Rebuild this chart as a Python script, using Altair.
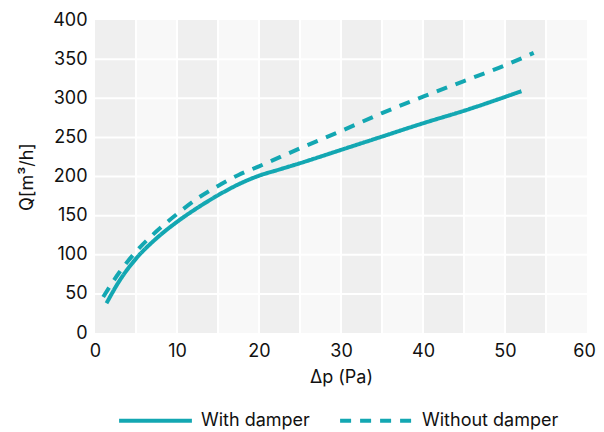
import altair as alt
import pandas as pd

# Data
with_dp = [1.4, 3, 5, 7.5, 10, 12.5, 15, 17.5, 20, 22.5, 25, 30, 35, 40, 45, 52]
with_q = [38, 67, 95, 121, 142, 160, 176, 190, 201, 209, 217, 234, 251, 268, 284, 309]
without_dp = [1.0, 3, 5, 7.5, 10, 12.5, 15, 17.5, 20, 25, 30, 35, 40, 45, 50, 53.5]
without_q = [46, 78, 104, 130, 152, 172, 188, 202, 213, 236, 258, 281, 302, 322, 342, 358]
series_names = ["With damper", "Without damper"]
band_starts = [0, 10, 20, 30, 40, 50]
band_ends = [5, 15, 25, 35, 45, 55]
x_ticks = [0, 10, 20, 30, 40, 50, 60]
y_ticks = [0, 50, 100, 150, 200, 250, 300, 350, 400]
x_grid = [5, 10, 15, 20, 25, 30, 35, 40, 45, 50, 55]
y_grid = [50, 100, 150, 200, 250, 300, 350]

teal = "#13a7b2"
font = "Inter"

rows = []
for x, y in zip(with_dp, with_q):
    rows.append({"dp": x, "q": y, "series": series_names[0]})
for x, y in zip(without_dp, without_q):
    rows.append({"dp": x, "q": y, "series": series_names[1]})
df = pd.DataFrame(rows)

bands = pd.DataFrame({"x0": band_starts, "x1": band_ends})

xscale = alt.Scale(domain=[0, 60], nice=False)
yscale = alt.Scale(domain=[0, 400], nice=False)
xaxis = alt.Axis(values=x_ticks, title="Δp (Pa)", grid=False, domain=False, ticks=False,
                 labelPadding=9, titlePadding=8, labelOverlap=False, labelFlush=False,
                 labelOffset={"condition": {"test": "datum.value === 60", "value": -3}, "value": 0})
yaxis = alt.Axis(values=y_ticks, title="Q[m³/h]", grid=False, domain=False, ticks=False,
                 labelPadding=8, titlePadding=16, labelOverlap=False, labelFlush=False)

bg = alt.Chart(bands).mark_rect(color="#efefef").encode(
    x=alt.X("x0:Q", scale=xscale, axis=xaxis, title="Δp (Pa)"),
    x2="x1:Q",
    y=alt.value(0),
    y2=alt.value(313),
)

gx = alt.Chart(pd.DataFrame({"g": x_grid})).mark_rule(color="white", strokeWidth=2).encode(
    x=alt.X("g:Q", scale=xscale, axis=xaxis, title="Δp (Pa)"), y=alt.value(0), y2=alt.value(313))
gy = alt.Chart(pd.DataFrame({"g": y_grid})).mark_rule(color="white", strokeWidth=2).encode(
    y=alt.Y("g:Q", scale=yscale, axis=yaxis, title="Q[m³/h]"), x=alt.value(0), x2=alt.value(492))

lines = alt.Chart(df).mark_line(strokeWidth=4, interpolate="monotone", strokeCap="butt").encode(
    x=alt.X("dp:Q", scale=xscale, axis=xaxis, title="Δp (Pa)"),
    y=alt.Y("q:Q", scale=yscale, axis=yaxis, title="Q[m³/h]"),
    color=alt.Color("series:N", scale=alt.Scale(domain=series_names, range=[teal, teal]),
                    legend=alt.Legend(title=None)),
    strokeDash=alt.StrokeDash("series:N", scale=alt.Scale(domain=series_names, range=[[1, 0], [11, 9]]),
                              legend=alt.Legend(title=None)),
)

chart = alt.layer(bg, gx, gy, lines).properties(
    width=492, height=313,
    autosize=alt.AutoSizeParams(type="none"),
    padding={"left": 87, "top": 12, "right": 9, "bottom": 99},
).configure_view(fill="#f8f8f8", stroke=None).configure_axis(
    labelFont=font, titleFont=font, labelFontSize=18, titleFontSize=18,
    labelColor="#111111", titleColor="#111111", titleFontWeight="normal",
).configure_legend(
    orient="none", legendX=22, legendY=362, direction="horizontal", columns=2,
    symbolType="stroke", symbolSize=5300, symbolStrokeWidth=4, symbolStrokeColor=teal,
    labelFont=font, labelFontSize=18, labelColor="#111111", labelOffset=7, columnPadding=22,
)

chart.save("out.html", embed_options={"renderer": "svg", "actions": False})
